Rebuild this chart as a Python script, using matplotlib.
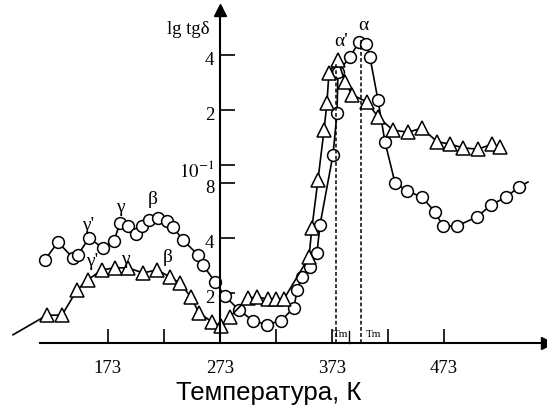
import matplotlib
matplotlib.use('Agg')
import matplotlib.pyplot as plt
from matplotlib.ticker import NullLocator

plt.rcParams['font.family'] = ['Liberation Serif', 'DejaVu Serif']
plt.rcParams['mathtext.fontset'] = 'stix'

# circles (upper curve at low T, alpha peak)
T_circ = [116.7, 128.4, 141.8, 146.2, 156.0, 168.5, 178.4, 183.7, 190.9, 198.0,
          203.4, 209.6, 217.6, 225.7, 231.0, 240.0, 253.4, 257.8, 268.5, 277.5,
          290.0, 302.5, 315.0, 327.5, 339.1, 341.8, 346.2, 353.4, 359.6, 362.3,
          373.9, 377.5, 378.4, 389.1, 397.1, 403.4, 406.9, 414.1, 420.3, 429.3,
          440.0, 453.4, 465.0, 472.1, 484.6, 502.5, 515.0, 528.4, 540.0]
tg_circ = [0.0303, 0.0379, 0.0310, 0.0322, 0.0399, 0.0352, 0.0385, 0.0482, 0.0464, 0.0420,
           0.0464, 0.0500, 0.0513, 0.0494, 0.0458, 0.0389, 0.0322, 0.0284, 0.0230, 0.0192,
           0.0161, 0.0141, 0.0134, 0.0141, 0.0166, 0.0207, 0.0244, 0.0277, 0.0330, 0.0470,
           0.1135, 0.192, 0.322, 0.389, 0.470, 0.458, 0.389, 0.226, 0.134, 0.0798,
           0.0721, 0.0668, 0.0553, 0.0464, 0.0464, 0.0520, 0.0604, 0.0668, 0.0758]
circ_tail = (548.0, 0.0807)

# triangles (alpha' peak)
T_tri = [118.5, 131.9, 145.3, 155.1, 167.6, 179.3, 190.9, 204.3, 216.8, 228.4,
         237.3, 247.1, 254.3, 265.9, 273.9, 281.9, 298.0, 306.0, 315.9, 323.0,
         330.1, 352.5, 355.1, 360.5, 365.9, 368.5, 370.3, 378.4, 384.6, 390.9,
         404.3, 414.1, 427.5, 440.9, 453.4, 466.8, 478.4, 490.0, 503.4, 515.9, 523.0]
tg_tri = [0.0151, 0.0151, 0.0207, 0.0236, 0.0267, 0.0274, 0.0274, 0.0257, 0.0267, 0.0244,
          0.0226, 0.0190, 0.0155, 0.0139, 0.0132, 0.0148, 0.0187, 0.0190, 0.0185, 0.0185,
          0.0185, 0.0314, 0.0453, 0.0828, 0.155, 0.218, 0.318, 0.375, 0.284, 0.242,
          0.221, 0.183, 0.155, 0.151, 0.159, 0.134, 0.130, 0.124, 0.122, 0.130, 0.125]
tri_head = (88.2, 0.0118)

x_major = [173, 273, 373, 473]
x_minor = [223, 323, 423]
y_ticks = [0.4, 0.2, 0.1, 0.08, 0.04, 0.02]
y_labels = ['4', '2', '$10^{-1}$', '8', '4', '2']

# peak temperatures (dashed lines) and their tops
T_peaks = [377, 399]
tg_peak_tops = [0.366, 0.482]

fig = plt.figure(figsize=(5.47, 4.05), dpi=100)
ax = fig.add_axes([0, 1 - 343 / 405, 1, 333 / 405])
ax.set_yscale('log')
ax.set_xlim(76.6, 565.0)
ax.set_ylim(0.01064, 0.703)

ax.plot(T_circ + [circ_tail[0]], tg_circ + [circ_tail[1]], color='black', lw=1.2)
ax.plot(T_circ, tg_circ, 'o', ms=8.5, mfc='white', mec='black', mew=1.1)
ax.plot([tri_head[0]] + T_tri, [tri_head[1]] + tg_tri, color='black', lw=1.2)
ax.plot(T_tri, tg_tri, '^', ms=9.5, mfc='white', mec='black', mew=1.1)

ax.vlines(T_peaks, 0.01064, tg_peak_tops, colors='black', linestyles=(0, (2.5, 1.5)), lw=1.1)

# axes as arrows
for s in ['top', 'right']:
    ax.spines[s].set_visible(False)
ax.spines['left'].set_position(('data', 273))
ax.spines['bottom'].set_bounds(112, 565)
ax.spines['left'].set_linewidth(1.5)
ax.spines['bottom'].set_linewidth(1.5)
ax.plot(1, 0, '>k', ms=9, transform=ax.transAxes, clip_on=False)
ax.plot(273, 1, '^k', ms=9, transform=ax.get_xaxis_transform(), clip_on=False)

ax.set_xticks(x_major)
ax.set_xticks(x_minor, minor=True)
ax.tick_params(axis='x', which='both', direction='in', length=10, width=1.2, pad=12, labelsize=13.5)
ax.set_yticks(y_ticks)
ax.yaxis.set_minor_locator(NullLocator())
ax.tick_params(axis='y', direction='in', length=11, width=1.2, labelleft=False)
for v, s in zip(y_ticks, y_labels):
    ax.annotate(s, xy=(273, v), xytext=(-4, -4), textcoords='offset points',
                ha='right', va='center', fontsize=13.5)

# peak labels
ax.text(155.1, 0.0464, "γ'", fontsize=14, ha='center', va='center')
ax.text(183.7, 0.0589, 'γ', fontsize=14, ha='center', va='center')
ax.text(213.2, 0.0644, 'β', fontsize=14, ha='center', va='center')
ax.text(158.7, 0.0295, "γ'", fontsize=14, ha='center', va='center')
ax.text(188.2, 0.0303, 'γ', fontsize=14, ha='center', va='center')
ax.text(226.6, 0.0314, 'β', fontsize=14, ha='center', va='center')
ax.text(381, 0.47, "α'", fontsize=14, ha='center', va='center')
ax.text(400.7, 0.582, 'α', fontsize=14, ha='center', va='center')

# Tm marks on the axis
xt = ax.get_xaxis_transform()
ax.text(381, 0.012, 'Tm', fontsize=8, ha='center', va='bottom', transform=xt)
ax.text(410.5, 0.012, 'Tm', fontsize=8, ha='center', va='bottom', transform=xt)
ax.plot([388.2, 388.2], [0, 0.035], color='black', lw=1.0, transform=xt, clip_on=False)

fig.text(210 / 547, 1 - 29 / 405, 'lg tgδ', ha='right', va='center', fontsize=13.5)
fig.text(269 / 547, 1 - 393 / 405, 'Температура, К', ha='center', va='center',
         fontsize=18.5, family='Liberation Sans')

fig.savefig('out.png', dpi=100)
